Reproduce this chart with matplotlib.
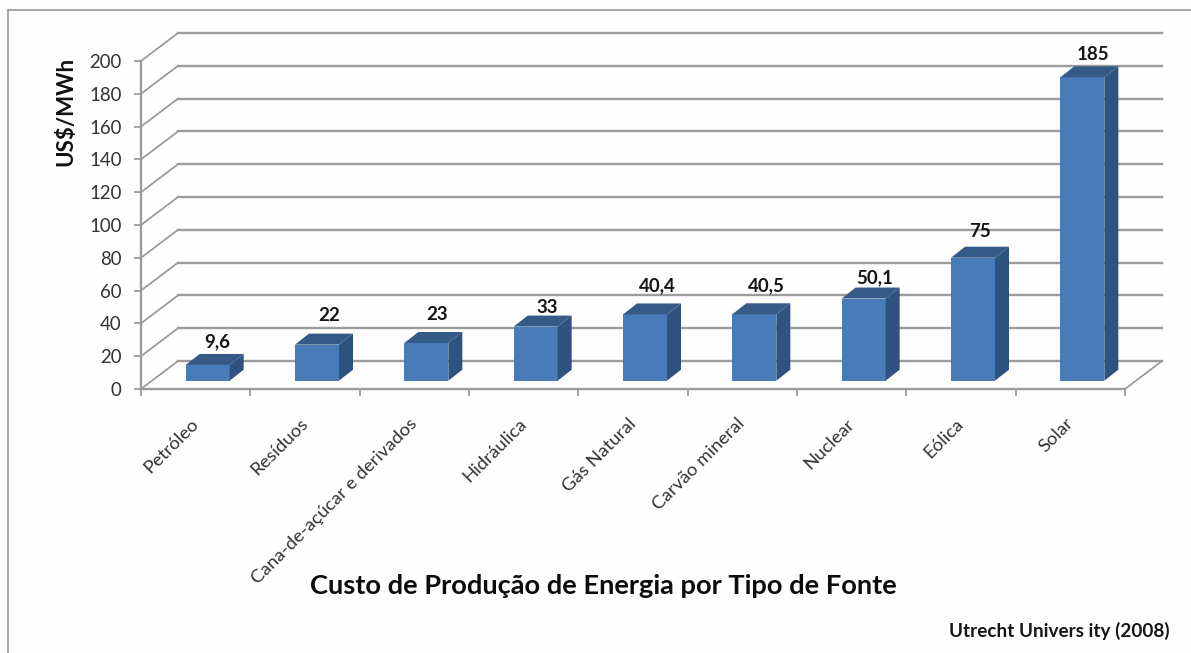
#!/usr/bin/env python3

import matplotlib
matplotlib.use("Agg")
import numpy as np
import matplotlib.pyplot as plt
from matplotlib.lines import Line2D
from matplotlib.patches import Polygon

categories = ["Petróleo", "Resíduos", "Cana-de-açúcar e derivados", "Hidráulica",
              "Gás Natural", "Carvão mineral", "Nuclear", "Eólica", "Solar"]
values = [9.6, 22, 23, 33, 40.4, 40.5, 50.1, 75, 185]
value_labels = ["9,6", "22", "23", "33", "40,4", "40,5", "50,1", "75", "185"]
y_ticks = list(range(0, 201, 20))

plt.rcParams['font.family'] = ['Lato', 'DejaVu Sans']

W, H = 1191, 653
GRID = '#9c9c9c'
TEXT = '#333333'

# pixel box of the front plane
left, right, top, bottom = 141, 1125, 61, 389
px_x = (right - left) / len(categories)
px_y = (bottom - top) / 200.

# depth of the fake 3d box, in data units
wall_dx = 37 / px_x
wall_dy = 28 / px_y
bar_w = 44 / px_x
bar_off_x = 12 / px_x
bar_off_y = 8.3 / px_y
bar_dx = 14 / px_x
bar_dy = 11 / px_y

# label nudges in px from the top back of each bar (the original is irregular)
nudge_x = [3, 5, 4, 5, 5, 5, 4, 0, 4]
nudge_y = [12, 18, 17, 8, 18, 18, 10, 15, 12]

fig = plt.figure(figsize=(W / 100, H / 100), dpi=100, facecolor='#fefefe')
ax = fig.add_axes([left / W, 1 - bottom / H, (right - left) / W, (bottom - top) / H])
ax.patch.set_alpha(0)
ax.set_xlim(-0.5, len(categories) - 0.5)
ax.set_ylim(0, 200)

x = np.arange(len(categories))

# grid: back wall + left wall
for t in y_ticks:
    ax.plot([-0.5, -0.5 + wall_dx], [t, t + wall_dy], color=GRID, lw=1.3, clip_on=False, zorder=1)
    ax.plot([-0.5 + wall_dx, 8.5 + wall_dx], [t + wall_dy, t + wall_dy], color=GRID, lw=1.7,
            clip_on=False, zorder=1)
ax.plot([8.5, 8.5 + wall_dx], [0, wall_dy], color=GRID, lw=1.3, clip_on=False, zorder=1)

# front faces
ax.bar(x + bar_off_x, values, bar_w, bottom=bar_off_y, color='#4a7bb9', clip_on=False, zorder=3)

for xx, v, lab, nx, ny in zip(x, values, value_labels, nudge_x, nudge_y):
    x0 = xx + bar_off_x - bar_w / 2
    x1 = xx + bar_off_x + bar_w / 2
    y0 = bar_off_y
    y1 = bar_off_y + v
    # side and top
    ax.add_patch(Polygon([(x1, y0), (x1 + bar_dx, y0 + bar_dy), (x1 + bar_dx, y1 + bar_dy), (x1, y1)],
                         closed=True, facecolor='#2f5381', edgecolor='none', clip_on=False, zorder=3))
    ax.add_patch(Polygon([(x0, y1), (x1, y1), (x1 + bar_dx, y1 + bar_dy), (x0 + bar_dx, y1 + bar_dy)],
                         closed=True, facecolor='#355a87', edgecolor='none', clip_on=False, zorder=3))
    ax.annotate(lab, (xx + bar_off_x + bar_dx / 2, y1 + bar_dy), xytext=(nx, ny),
                textcoords='offset pixels', ha='center', va='center', fontsize=13.5,
                fontweight='bold', color='#151515', zorder=4)

# axes
for s in ['top', 'right']:
    ax.spines[s].set_visible(False)
for s in ['left', 'bottom']:
    ax.spines[s].set_color(GRID)
    ax.spines[s].set_linewidth(1.7)

ax.set_yticks(y_ticks)
ax.tick_params(axis='y', length=5, width=1.3, color=GRID, pad=9, labelsize=13.4, labelcolor=TEXT)
ax.set_xticks(np.arange(len(categories) + 1) - 0.5)
ax.set_xticklabels([])
ax.tick_params(axis='x', which='major', length=5, width=1.3, color=GRID)
ax.set_xticks(x - 0.05, categories, minor=True)
ax.tick_params(axis='x', which='minor', length=0, pad=19, labelsize=13.3, labelcolor=TEXT)
for lbl in ax.get_xticklabels(minor=True):
    lbl.set_rotation(45)
    lbl.set_ha('right')
    lbl.set_rotation_mode('anchor')

fig.text(66 / W, 1 - 111 / H, "US$/MWh", rotation=90, ha='center', va='center',
         fontsize=16, fontweight='bold', color='#111111')
fig.text(603 / W, 1 - 586 / H, "Custo de Produção de Energia por Tipo de Fonte", ha='center',
         va='center', fontsize=19.6, fontweight='bold', color='#0c0c0c')
fig.text(1170 / W, 1 - 631 / H, "Utrecht Univers ity (2008)", ha='right', va='center',
         fontsize=13.6, fontweight='bold', color='#151515')

# picture frame
fig.add_artist(Line2D([8 / W, 8 / W], [0, 1 - 10 / H], color='#a0a0a0', lw=1.3))
fig.add_artist(Line2D([8 / W, 1], [1 - 10 / H, 1 - 10 / H], color='#a0a0a0', lw=1.3))

fig.savefig("out.png", dpi=100, facecolor=fig.get_facecolor())
